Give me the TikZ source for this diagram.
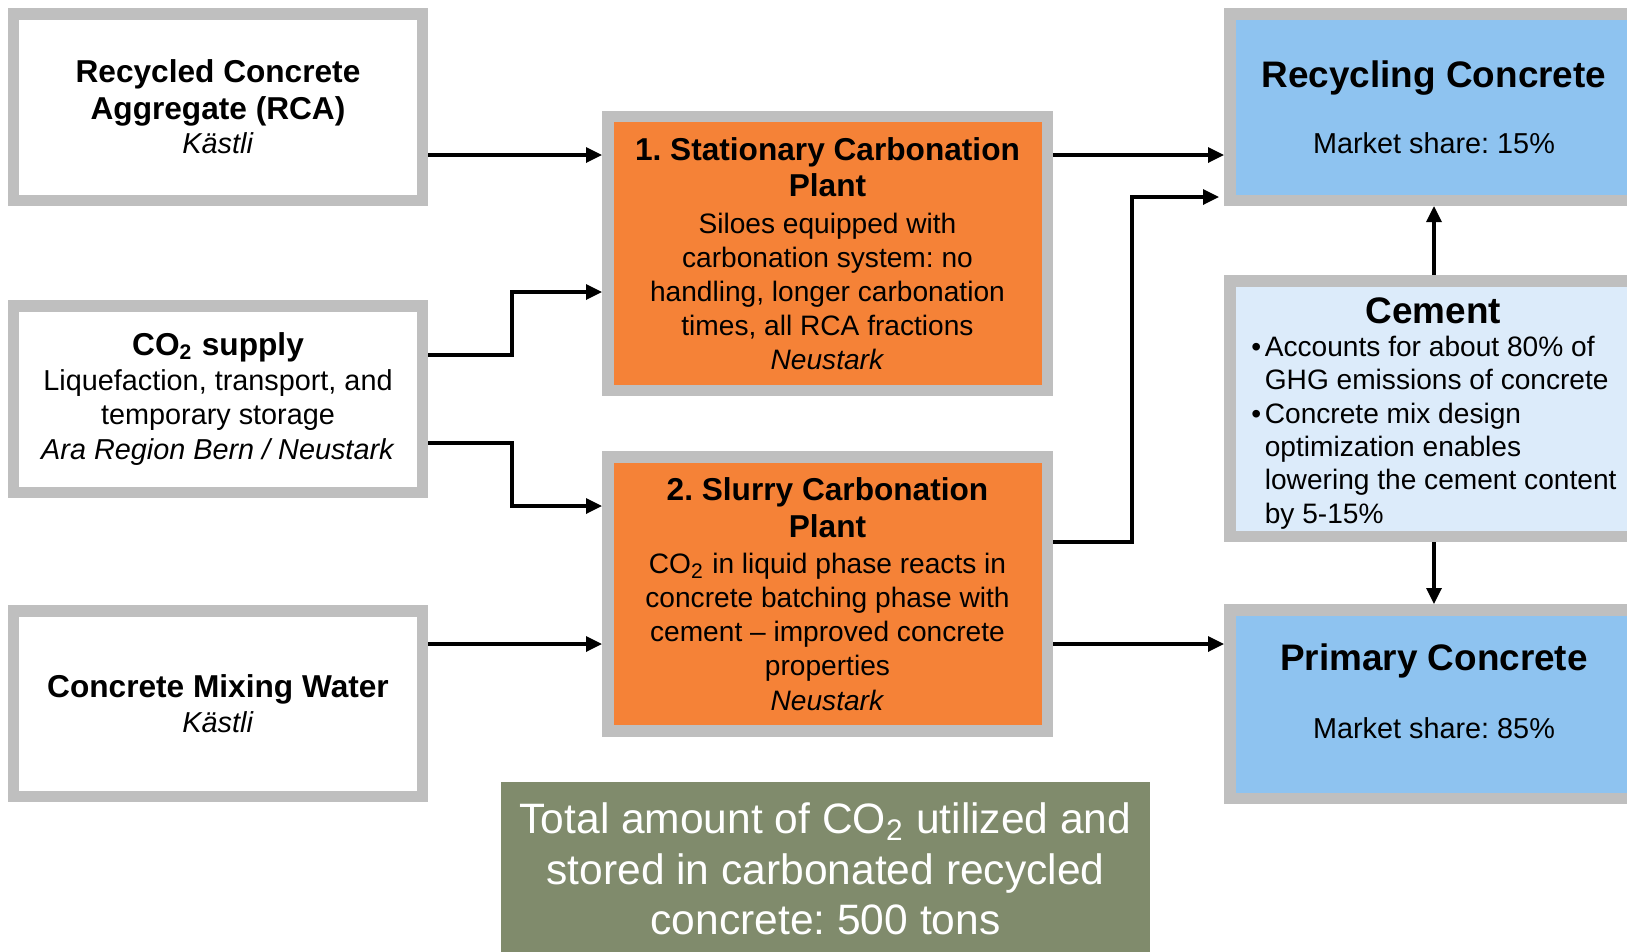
\documentclass[tikz,border=0pt]{standalone}
\usepackage{fontspec}
\setmainfont{Liberation Sans}
\usepackage{tikz}
\usetikzlibrary{arrows.meta}
\frenchspacing

\definecolor{framegray}{RGB}{191,191,191}
\definecolor{plantorange}{RGB}{245,130,55}
\definecolor{prodblue}{RGB}{142,195,240}
\definecolor{cementblue}{RGB}{220,235,250}
\definecolor{totalgreen}{RGB}{128,139,108}

\newcommand{\titlefont}{\fontsize{9}{10.4}\selectfont\bfseries}
\newcommand{\bigtitlefont}{\fontsize{10.5}{12.5}\selectfont\bfseries}
\newcommand{\bodyfont}{\fontsize{8.2}{9.8}\selectfont}
\newcommand{\bulletgap}{\hphantom{\textbullet\hspace{1pt}}}

\tikzset{
  framed/.style={draw=framegray, line width=0.115cm, align=center, inner sep=0pt, font=\bodyfont},
  srcbox/.style={framed, fill=white, minimum width=4.085cm, minimum height=1.865cm},
  plantbox/.style={framed, fill=plantorange, minimum width=4.395cm, minimum height=2.74cm,
    font=\fontsize{8}{9.7}\selectfont},
  prodbox/.style={framed, fill=prodblue, minimum width=4.085cm, minimum height=1.865cm},
  cembox/.style={framed, fill=cementblue, align=left, minimum width=4.085cm, minimum height=2.555cm,
    font=\fontsize{8}{9.5}\selectfont},
  totalbox/.style={fill=totalgreen, text=white, align=center, inner sep=0pt,
    minimum width=6.49cm, minimum height=1.74cm, font=\fontsize{12.1}{14.3}\selectfont},
  flow/.style={line width=0.033cm, -{Triangle[length=1.6mm,width=1.5mm]}}
}

\begin{document}
\begin{tikzpicture}[scale=1]

\useasboundingbox (0,0) rectangle (16.27,-9.52);
\clip (0,0) rectangle (16.27,-9.52);

% inputs
\node[srcbox] (rca) at (2.18,-1.07)
  {{\titlefont Recycled Concrete}\\[0.6pt] {\titlefont Aggregate (RCA)}\\ \textit{Kästli}};
\node[srcbox] (co2) at (2.18,-3.99)
  {{\titlefont CO\textsubscript{2} supply}\\ Liquefaction, transport, and\\ temporary storage\\ \textit{Ara Region Bern / Neustark}};
\node[srcbox, minimum height=1.855cm] (water) at (2.18,-7.035)
  {{\titlefont Concrete Mixing Water}\\ \textit{Kästli}};

% plants
\node[plantbox] (p1) at (8.275,-2.535)
  {{\titlefont 1. Stationary Carbonation}\\[0.7pt] {\titlefont Plant}\\[0.7pt]
   Siloes equipped with\\ carbonation system: no\\ handling, longer carbonation\\
   times, all RCA fractions\\ \textit{Neustark}};
\node[plantbox] (p2) at (8.275,-5.94)
  {{\titlefont 2. Slurry Carbonation}\\[0.7pt] {\titlefont Plant}\\[0.7pt]
   CO\textsubscript{2} in liquid phase reacts in\\ concrete batching phase with\\
   cement -- improved concrete\\ properties\\ \textit{Neustark}};

% products
\node[prodbox, text depth=-0.04cm] (recyc) at (14.34,-1.07)
  {{\bigtitlefont Recycling Concrete}\\[9pt] Market share: 15\%};
\node[cembox] (cement) at (14.34,-4.085)
  {\makebox[3.64cm]{\bigtitlefont\rule{0pt}{10pt}Cement}\\
   \textbullet\hspace{1pt}Accounts for about 80\% of\\
   \bulletgap GHG emissions of concrete\\
   \textbullet\hspace{1pt}Concrete mix design\\
   \bulletgap optimization enables\\
   \bulletgap lowering the cement content\\
   \bulletgap by 5-15\%};
\node[prodbox, minimum height=1.885cm, text depth=0.26cm] (primary) at (14.34,-7.04)
  {{\bigtitlefont Primary Concrete}\\[9.7pt] Market share: 85\%};

\node[totalbox] (total) at (8.255,-8.69)
  {Total amount of CO\textsubscript{2} utilized and\\ stored in carbonated recycled\\ concrete: 500 tons};

% flows
\draw[flow] ([yshift=-0.48cm]rca.east) -- ([yshift=-0.48cm]rca.east -| p1.west);
\draw[flow] ([yshift=0.44cm]co2.east) -- ++(0.84,0) |- ([yshift=-0.385cm]p1.west);
\draw[flow] ([yshift=-0.44cm]co2.east) -- ++(0.84,0) |- ([yshift=0.88cm]p2.west);
\draw[flow] ([yshift=0.595cm]water.east) -- ([yshift=0.595cm]water.east -| p2.west);

\draw[flow] ([yshift=0.985cm]p1.east) -- ([yshift=0.985cm]p1.east -| recyc.west);
\draw[flow, shorten >=0.05cm] ([yshift=0.52cm]p2.east) -- ++(0.79,0) |- ([yshift=-0.90cm]recyc.west);
\draw[flow] ([yshift=-0.50cm]p2.east) -- ([yshift=-0.50cm]p2.east -| primary.west);

\draw[flow] (cement.north) -- (recyc.south);
\draw[flow] (cement.south) -- (primary.north);

\end{tikzpicture}
\end{document}
